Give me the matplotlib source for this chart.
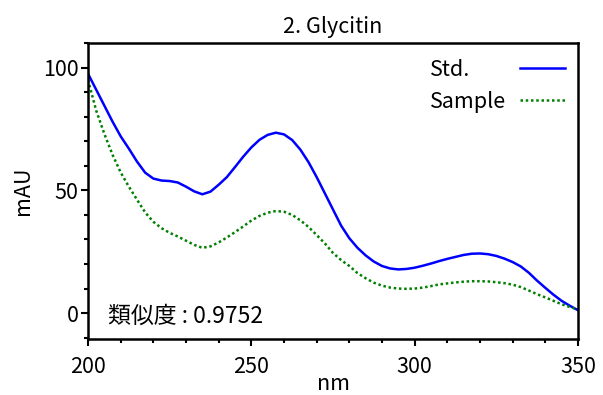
import matplotlib
matplotlib.use("Agg")
import matplotlib.pyplot as plt
from matplotlib.ticker import MultipleLocator

plt.rcParams['font.family'] = ['Noto Sans CJK JP', 'DejaVu Sans']

# UV spectra (wavelength in nm, absorbance in mAU)
wavelength = [200 + 2.5 * i for i in range(61)]
std_values = [97.5, 91, 84.5, 78, 72, 67, 61.7, 57.2, 54.8, 54, 53.8, 53.2, 51.5,
              49.6, 48.4, 49.5, 52.3, 55.4, 59.5, 63.7, 67.5, 70.6, 72.6, 73.5,
              72.8, 70.5, 66.6, 61.5, 55.4, 48.8, 42.2, 35.6, 30.5, 26.6, 23.5,
              21, 19.2, 18.2, 17.8, 18, 18.5, 19.3, 20.2, 21.2, 22.1, 22.9, 23.7,
              24.2, 24.3, 24.0, 23.3, 22.2, 20.8, 19.0, 16.4, 13.2, 10.3, 7.5,
              5, 3, 1.2]
sample_values = [95, 82.5, 73, 64.5, 57.3, 51.5, 46.2, 41, 37.2, 34.6, 32.7,
                 31.2, 29.5, 27.8, 26.6, 27.2, 28.8, 30.8, 33, 35.3, 37.7, 39.6,
                 40.9, 41.6, 41.3, 40, 37.8, 35.1, 31.8, 28.4, 24.5, 21.6, 19.2,
                 16.3, 14.2, 12.4, 11.2, 10.4, 10, 9.9, 10, 10.4, 11, 11.7, 12.1,
                 12.5, 12.8, 13, 13, 12.9, 12.6, 12.2, 11.6, 10.6, 9.2, 7.7, 6.4,
                 5, 3.6, 2.5, 1.5]
series_labels = ["Std.", "Sample"]
title = "2. Glycitin"
similarity = "類似度 : 0.9752"

FS = 15.5
blue_style = dict(color="#0000ff", lw=1.8)
green_style = dict(color="#008000", lw=1.8, linestyle=(0, (1, 1.1)))

fig = plt.figure(figsize=(6.03, 3.95), dpi=100)
ax = fig.add_axes([0.146, 0.142, 0.8125, 0.749])

ax.plot(wavelength, std_values, **blue_style)
ax.plot(wavelength, sample_values, **green_style)

ax.set_xlim(200, 350)
ax.set_ylim(-10.5, 110)
ax.xaxis.set_major_locator(MultipleLocator(50))
ax.xaxis.set_minor_locator(MultipleLocator(10))
ax.yaxis.set_major_locator(MultipleLocator(50))
ax.yaxis.set_minor_locator(MultipleLocator(10))

for s in ax.spines.values():
    s.set_linewidth(1.8)
ax.tick_params(which="major", direction="out", length=5, width=1.5,
               labelsize=FS, pad=2)
ax.tick_params(axis="x", which="major", pad=7)
ax.tick_params(which="minor", direction="out", length=3, width=1.5)

ax.set_title(title, fontsize=FS, pad=7.5)
ax.set_xlabel("nm", fontsize=FS, labelpad=-3)
ax.set_ylabel("mAU", fontsize=FS, labelpad=6)

# legend: labels on the left, line samples on the right
for i, (lab, st) in enumerate(zip(series_labels, [blue_style, green_style])):
    yy = 0.91 - i * 0.108
    ax.text(0.698, yy, lab, transform=ax.transAxes, fontsize=FS,
            ha="left", va="center")
    ax.plot([0.882, 0.973], [yy + 0.005, yy + 0.005], transform=ax.transAxes,
            clip_on=False, **st)

ax.text(0.041, 0.078, similarity, transform=ax.transAxes, fontsize=16.5,
        ha="left", va="center")

fig.savefig("out.png", dpi=100)
